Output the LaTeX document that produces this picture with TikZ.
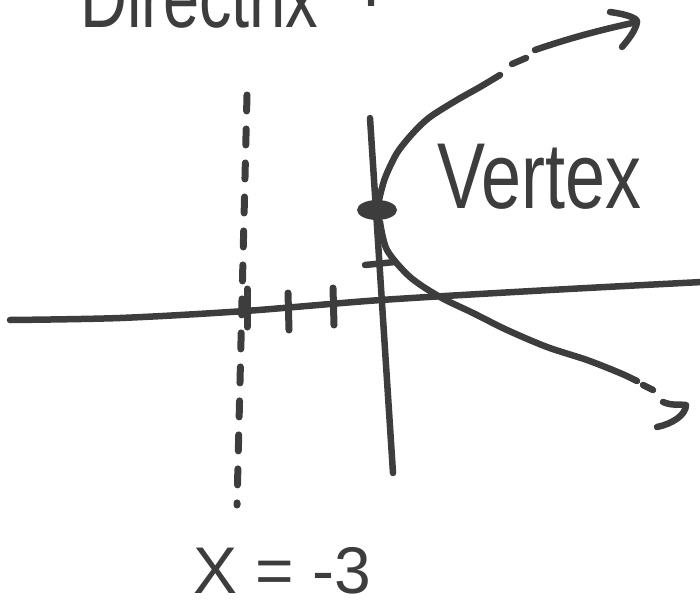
\documentclass[tikz,border=0pt]{standalone}
\usepackage{fontspec}
\setmainfont{Liberation Sans}
\usetikzlibrary{shapes.geometric}
\definecolor{ink}{HTML}{3D3D3D}
\begin{document}
\begin{tikzpicture}[x=1pt,y=-1pt,
  pen/.style={draw=ink,line width=6.5pt,line cap=round,line join=round},
  tickpen/.style={pen,line width=7pt},
  dirpen/.style={pen,line width=7pt,dash pattern=on 16pt off 18pt},
  lbl/.style={text=ink,inner sep=0pt,text depth=0pt}]
\useasboundingbox (0,0) rectangle (700,607);
% axes and directrix end points
\coordinate (xl) at (10,320);
\coordinate (xr) at (702,282);
\coordinate (yt) at (370,118);
\coordinate (yb) at (393,473);
\coordinate (dt) at (247,95);
\coordinate (db) at (237,505);
% x axis
\draw[pen] plot[smooth] coordinates {(xl) (120,318) (245,311) (381,300) (550,290) (xr)};
% y axis
\draw[pen] (yt) -- (yb);
% directrix
\draw[dirpen] (dt) -- (db);
% ticks
\coordinate (t1a) at (247,289); \coordinate (t1b) at (247,327);
\coordinate (t2a) at (288,293); \coordinate (t2b) at (289,330);
\coordinate (t3a) at (333,288); \coordinate (t3b) at (334,325);
\draw[tickpen] (t1a) -- (t1b);
\draw[tickpen] (t2a) -- (t2b);
\draw[tickpen] (t3a) -- (t3b);
\coordinate (ya) at (365,265); \coordinate (yc) at (395,262);
\draw[pen] (ya) -- (yc);
% vertex
\node[ellipse,fill=ink,minimum width=40pt,minimum height=20pt,inner sep=0pt] (vtx) at (377,210) {};
% upper branch
\coordinate (u0) at (379,200);
\coordinate (u1) at (500,75);
\draw[pen] plot[smooth] coordinates {(u0) (385,178) (397,153) (413,133) (430,117) (457,100) (480,87) (u1)};
\coordinate (ud1) at (512,64); \coordinate (ud2) at (526,58);
\draw[pen] (ud1) -- (ud2);
\coordinate (us) at (535,50); \coordinate (ue) at (637,22);
\draw[pen] (us) .. controls (570,38) and (600,30) .. (ue);
\coordinate (ua) at (610,12); \coordinate (ub) at (622,47);
\draw[pen] (ua) .. controls (625,14) and (638,18) .. (ue) .. controls (636,30) and (628,40) .. (ub);
% lower branch
\coordinate (l0) at (380,222);
\coordinate (l1) at (637,381);
\draw[pen] plot[smooth] coordinates {(l0) (387,250) (410,277) (440,297) (473,313) (507,330) (547,347) (587,360) (620,373) (l1)};
\coordinate (ld1) at (643,385); \coordinate (ld2) at (653,390);
\draw[pen] (ld1) -- (ld2);
\coordinate (la) at (663,402); \coordinate (lt) at (686,405); \coordinate (lb) at (657,427);
\draw[pen] (la) .. controls (672,406) and (680,404) .. (lt) .. controls (686,415) and (672,424) .. (lb);
% labels
\node[lbl,anchor=base west,font=\fontsize{72}{80}\selectfont] (vl) at (437,208) {\scalebox{1}[1.3]{Vertex}};
\node[lbl,anchor=base west,font=\fontsize{66}{72}\selectfont] (xeq) at (193,593) {X = -3};
\node[lbl,anchor=base west,font=\fontsize{65}{72}\selectfont] (dl) at (80,28) {\scalebox{1}[1.3]{Directrix}};
\node[lbl,anchor=base west,font=\fontsize{65}{72}\selectfont] (dc) at (362,7) {:};
\end{tikzpicture}
\end{document}
